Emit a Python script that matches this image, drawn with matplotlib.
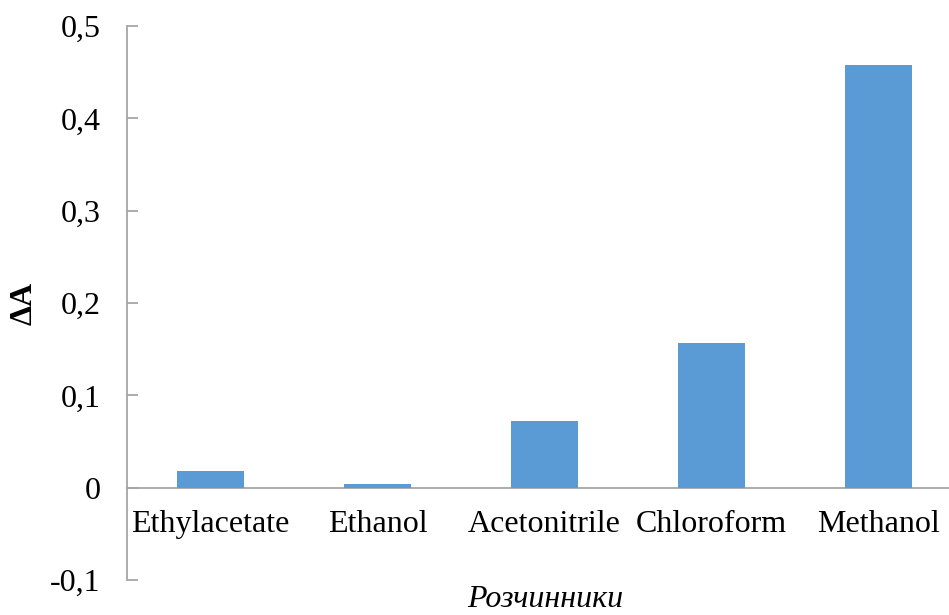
import matplotlib
matplotlib.use("Agg")
import matplotlib.pyplot as plt

categories = ["Ethylacetate", "Ethanol", "Acetonitrile", "Chloroform", "Methanol"]
values = [0.018, 0.004, 0.072, 0.157, 0.458]
yticks = [-0.1, 0.0, 0.1, 0.2, 0.3, 0.4, 0.5]
ytick_labels = ["-0,1", "0", "0,1", "0,2", "0,3", "0,4", "0,5"]
xlabel = "Розчинники"
ylabel = "ΔA"

W, H = 949, 615
fig = plt.figure(figsize=(W / 100, H / 100), dpi=100)
ax = fig.add_axes([127 / W, 1 - 580 / H, (962 - 127) / W, (580 - 26) / H])

x = list(range(len(categories)))
ax.bar(x, values, width=0.4, color="#5B9BD5", zorder=3)
ax.set_xlim(-0.5, len(categories) - 0.5)
ax.set_ylim(-0.1, 0.5)

grey = "#A6A6A6"
for s in ["top", "right"]:
    ax.spines[s].set_visible(False)
ax.spines["left"].set_color(grey)
ax.spines["left"].set_linewidth(1.3)
ax.spines["bottom"].set_position(("data", 0))
ax.spines["bottom"].set_color(grey)
ax.spines["bottom"].set_linewidth(1.3)

ax.set_yticks(yticks)
ax.set_yticklabels(ytick_labels, family="Liberation Serif", fontsize=23)
ax.tick_params(axis="y", direction="in", length=8, width=1.3, color=grey, pad=19)
ax.set_xticks(x)
ax.set_xticklabels(categories, family="Liberation Serif", fontsize=23)
ax.tick_params(axis="x", length=0, pad=16)

fig.text(24 / W, 1 - 303 / H, ylabel, rotation=90, family="Liberation Serif",
         fontweight="bold", fontsize=23, ha="center", va="center")
fig.text(545 / W, 1 - 607 / H, xlabel, family="Liberation Serif", style="italic",
         fontsize=23, ha="center", va="baseline")

fig.savefig("out.png", dpi=100)
